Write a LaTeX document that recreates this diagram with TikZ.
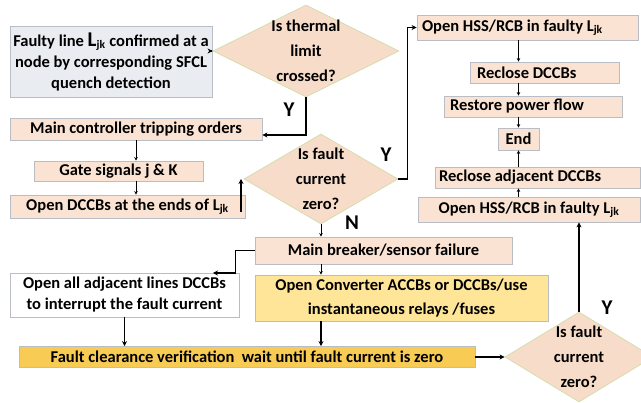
\documentclass[tikz,border=0pt]{standalone}
\usepackage{fontspec}
\setmainfont{Carlito}
\usepackage{tikz}
\usetikzlibrary{shapes.geometric,arrows.meta}
\definecolor{peach}{HTML}{FBE3D3}
\definecolor{peachdia}{HTML}{F7DDC9}
\definecolor{greyblue}{HTML}{E9EDF2}
\definecolor{lightgold}{HTML}{FFE597}
\definecolor{gold}{HTML}{F8CB55}
\definecolor{boxline}{HTML}{B9BEC6}
\definecolor{dialine}{HTML}{D5DCAE}
\newcommand{\Ljk}{L\textsubscript{jk}}
\newcommand{\bigLjk}{{\fontsize{21}{21}\selectfont L}\textsubscript{jk}}

\begin{document}
\begin{tikzpicture}[x=1pt,y=-1pt,
  every node/.style={font=\bfseries\fontsize{16.5}{21}\selectfont,inner sep=0pt,align=center},
  sz/.style 2 args={minimum width=#1pt,minimum height=#2pt},
  lefttext/.style 2 args={text width=#1pt,inner xsep=#2pt,align=flush left},
  flowbox/.style={draw=boxline,fill=peach,line width=0.8pt},
  decision/.style={diamond,draw=dialine,fill=peachdia,line width=0.8pt},
  dtext/.style={font=\bfseries\fontsize{16.5}{25}\selectfont},
  yn/.style={font=\bfseries\fontsize{21}{21}\selectfont},
  flow/.style={line width=1.6pt,-{Stealth[length=5pt,width=5pt]}},
  chain/.style={line width=0.9pt,-{Stealth[length=3.5pt,width=3.5pt]}}]

\useasboundingbox (0,0) rectangle (641,403);

%left column
\node[flowbox,fill=greyblue,sz={202}{71}] (fdet) at (111,61.5)
  {Faulty line \bigLjk{} confirmed at a\\node by corresponding SFCL\\quench detection};
\node[flowbox,sz={252}{22}] (mainctl) at (136,129) {Main controller tripping orders};
\node[flowbox,sz={169}{20}] (gate) at (118.5,171) {Gate signals j \& K};
\node[flowbox,sz={235}{23}] (dccb) at (127.5,206.5) {Open DCCBs at the ends of \Ljk};
\node[flowbox,fill=white,sz={229}{44}] (adj) at (124.5,295)
  {Open all adjacent lines DCCBs\\to interrupt the fault current};
\node[flowbox,fill=gold,sz={456}{21}] (fclr) at (247,357)
  {Fault clearance verification\ \ wait until fault current is zero};

%decisions
\node[decision,sz={186}{92},label={[dtext]center:{Is thermal\\limit\\crossed?}}] (dia1) at (306,51) {};
\node[decision,sz={154}{90},label={[dtext]center:{Is fault\\current\\zero?}}] (dia2) at (321,179) {};
\node[decision,sz={148}{90},label={[dtext]center:{Is fault\\current\\zero?}}] (dia3) at (579,357) {};

%middle
\node[flowbox,sz={257}{27}] (mainbrk) at (383.5,250.5) {Main breaker/sensor failure};
\node[flowbox,fill=lightgold,sz={293}{46},font=\bfseries\fontsize{16.5}{24}\selectfont] (conv) at (401.5,298)
  {Open Converter ACCBs or DCCBs/use\\instantaneous relays /fuses};

%right column
\node[flowbox,sz={221}{25},lefttext={211}{5}] (hss1) at (527.5,27.5) {Open HSS/RCB in faulty \Ljk};
\node[flowbox,sz={149}{21},lefttext={135}{7}] (recl) at (544.5,72.5) {Reclose DCCBs};
\node[flowbox,sz={178}{21},lefttext={166}{6}] (restore) at (533,106.5) {Restore power flow};
\node[flowbox,sz={41}{22}] (endn) at (518.5,139) {End};
\node[flowbox,sz={205}{21},lefttext={197}{4}] (recladj) at (537.5,177.5) {Reclose adjacent DCCBs};
\node[flowbox,sz={222}{25}] (hss2) at (529,209.5) {Open HSS/RCB in faulty \Ljk};

%yes/no
\node[yn] (y1) at (289,110) {Y};
\node[yn] (y2) at (386,155) {Y};
\node[yn] (n2) at (352,223) {N};
\node[yn] (y3) at (607,308) {Y};

\coordinate (dccbup) at (241,212);
\coordinate (adjtip) at (213,273);

%connectors
\draw[flow,line width=1.2pt] (fdet.east |- dia1.west) -- (dia1.west);
\draw[flow] (dia1.south) |- ([yshift=-6pt]mainctl.east);
\draw[chain] (mainctl.south) -- (mainctl.south |- gate.north);
\draw[chain] (mainctl.south |- gate.south) -- (mainctl.south |- dccb.north);
\draw[flow,line width=1.2pt] (dccbup) -- (dccbup |- dia2.west);
\draw[flow] (dia2.east) -- ++(9,0) |- (hss1.west);
\draw[chain] (dia2.south) -- (dia2.south |- mainbrk.north);
\draw[chain] (dia2.south |- mainbrk.south) -- (dia2.south |- conv.north);
\draw[flow,line width=1.2pt] (dia2.south |- conv.south) -- (dia2.south |- fclr.north);
\draw[flow] (mainbrk.west) -- ++(-19,0) |- (adjtip);
\draw[flow,line width=1.2pt] (adj.south) -- (adj.south |- fclr.north);
\draw[flow] (fclr.east) -- (dia3.west);
\draw[flow] (dia3.north) -- (dia3.north |- hss2.south);
%right column arrows
\draw[chain] (endn |- hss1.south) -- (endn |- recl.north);
\draw[chain] (endn |- recl.south) -- (endn |- restore.north);
\draw[chain] (endn |- restore.south) -- (endn.north);
\draw[chain] (endn |- recladj.north) -- (endn.south);
\draw[chain] (endn |- hss2.north) -- (endn |- recladj.south);
\end{tikzpicture}
\end{document}
